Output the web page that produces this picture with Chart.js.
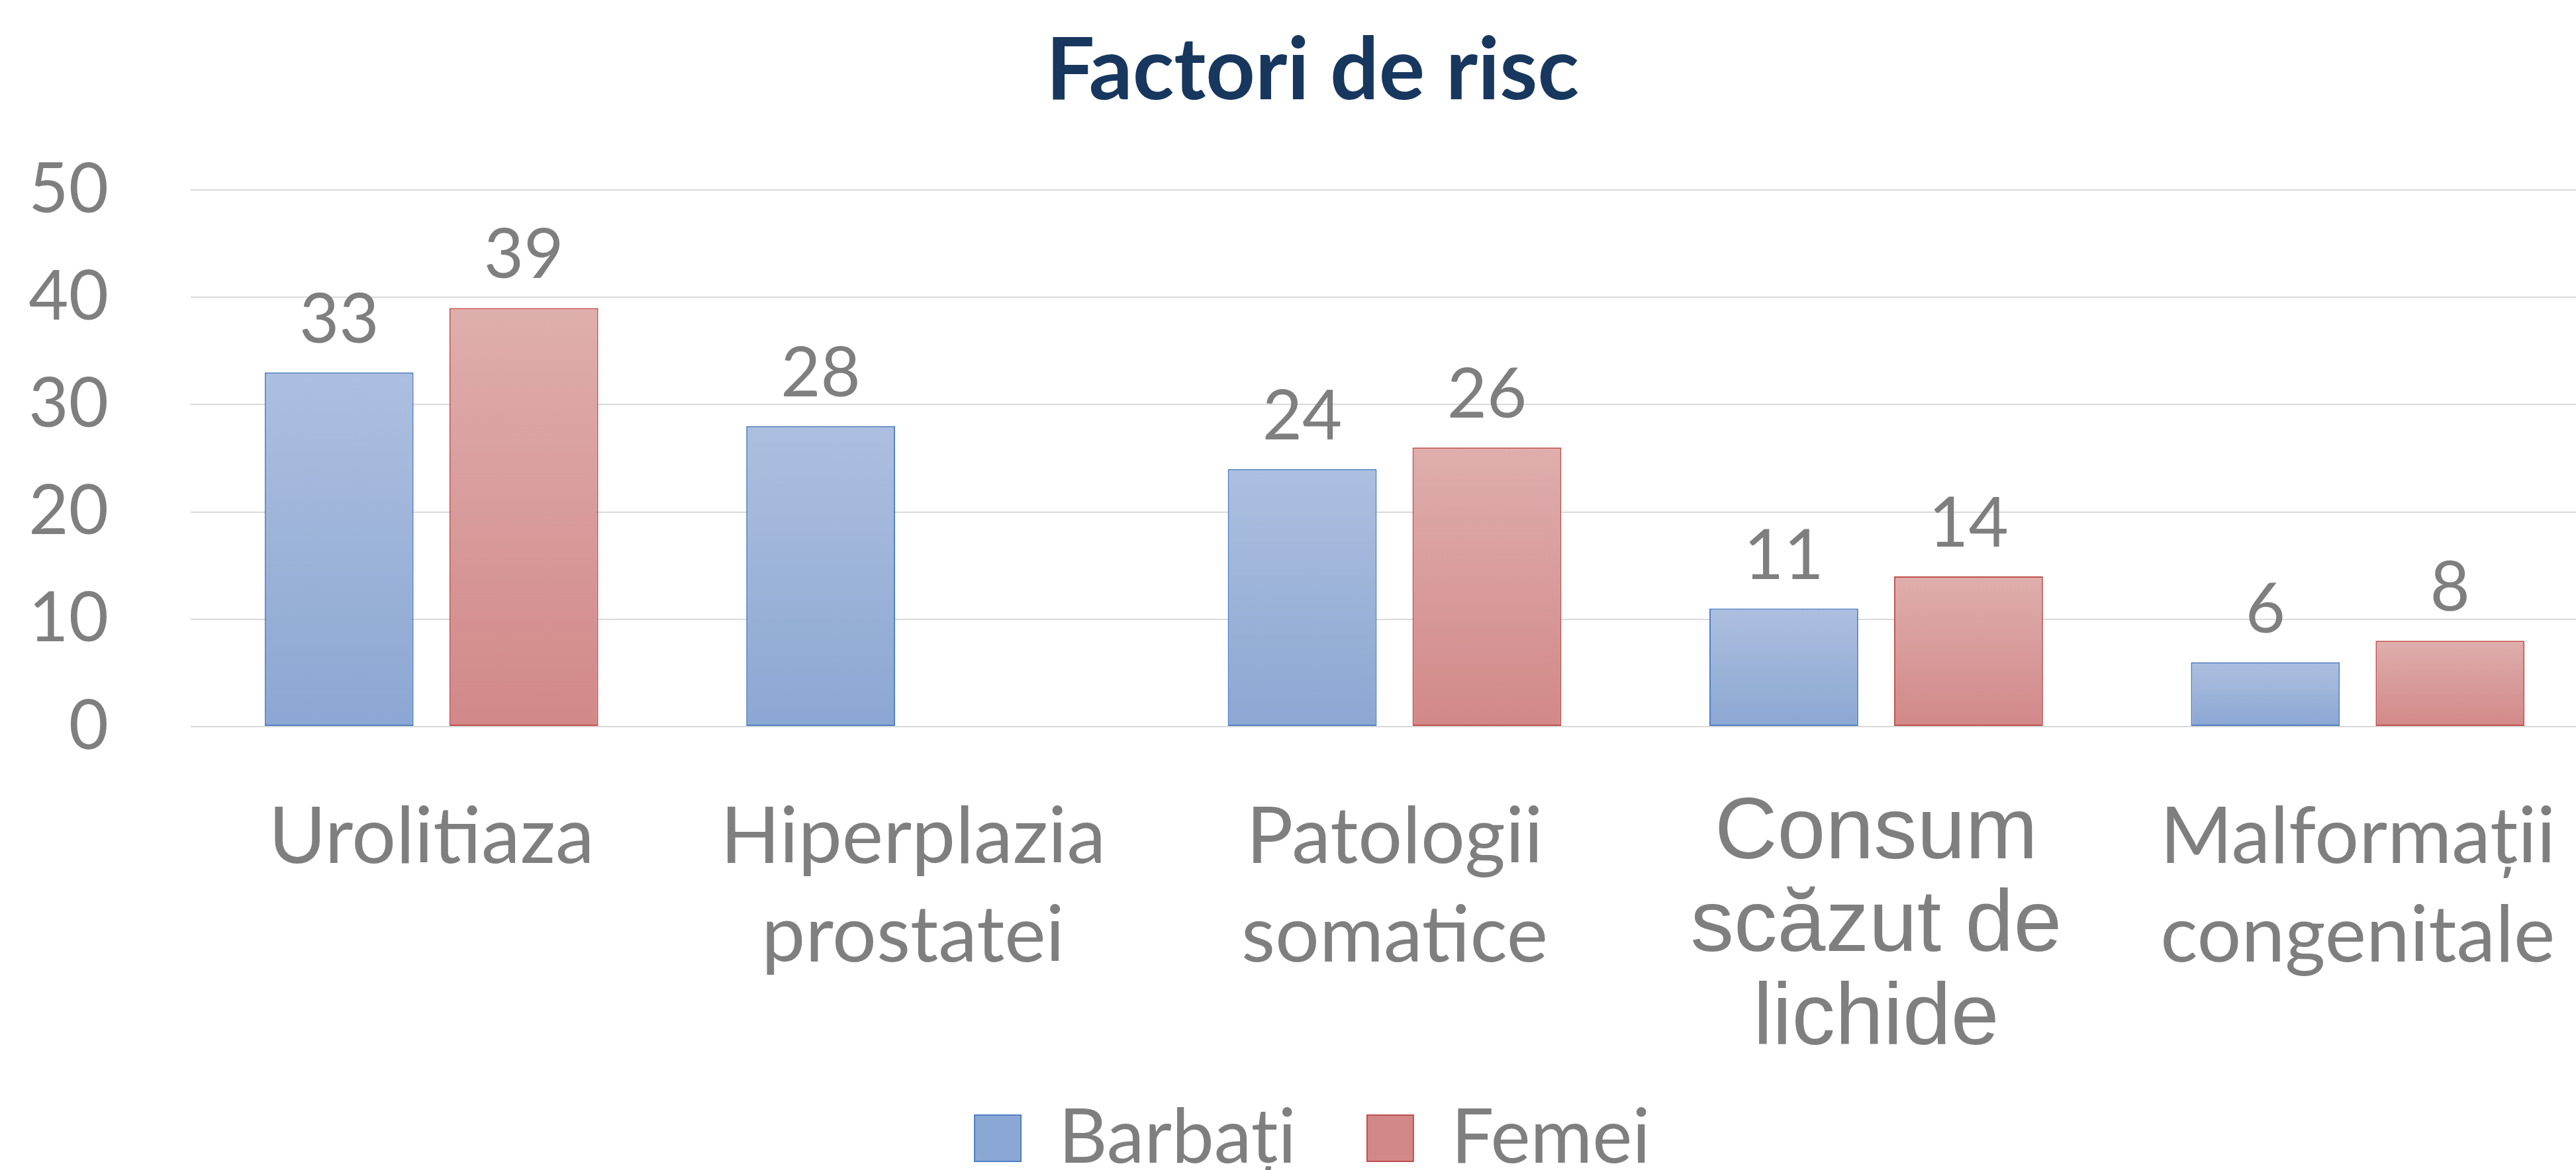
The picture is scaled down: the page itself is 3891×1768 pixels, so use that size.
<!DOCTYPE html>
<html>
<head>
<meta charset="utf-8">
<script src="https://cdn.jsdelivr.net/npm/chart.js@4.4.1/dist/chart.umd.min.js"></script>
<style>
  html, body { margin: 0; padding: 0; background: #ffffff; overflow: hidden; width: 3891px; height: 1768px; }
  #wrap { position: absolute; left: 0; top: 0; }
  canvas { display: block; }
</style>
</head>
<body>
<div id="wrap"><canvas id="c" width="3980" height="1800"></canvas></div>
<script>
// ---- data ----
const titleText = "Factori de risc";
const categories = [
  ["Urolitiaza"],
  ["Hiperplazia", "prostatei"],
  ["Patologii", "somatice"],
  ["Consum", "scăzut de", "lichide"],
  ["Malformații", "congenitale"]
];
const seriesNames = ["Barbați", "Femei"];
const barbatiValues = [33, 28, 24, 11, 6];
const femeiValues = [39, null, 26, 14, 8];
const yTicks = [0, 10, 20, 30, 40, 50];

// ---- styles ----
const GREY = "#7f7f7f";
const blueTop = "#adbfdf", blueBottom = "#8ba7d3", blueMid = "#9cb3d9", blueBorder = "#4f7fc4";
const redTop = "#deaead", redBottom = "#d28888", redMid = "#d89c9c", redBorder = "#c0504d";

function gradientFill(top, bottom, mid) {
  return function (ctx) {
    const chart = ctx.chart;
    if (ctx.type !== "data" || !chart.chartArea) return mid;
    const v = ctx.raw;
    if (v == null) return mid;
    const ys = chart.scales.y;
    const y0 = ys.getPixelForValue(v), y1 = ys.getPixelForValue(0);
    if (!isFinite(y0) || !isFinite(y1) || y0 === y1) return mid;
    const g = chart.ctx.createLinearGradient(0, y0, 0, y1);
    g.addColorStop(0, top);
    g.addColorStop(1, bottom);
    return g;
  };
}

const valueLabels = {
  id: "valueLabels",
  afterDatasetsDraw(chart) {
    const ctx = chart.ctx;
    ctx.save();
    ctx.font = "104px Lato";
    ctx.fillStyle = GREY;
    ctx.textAlign = "center";
    ctx.textBaseline = "alphabetic";
    chart.data.datasets.forEach((ds, i) => {
      const meta = chart.getDatasetMeta(i);
      meta.data.forEach((el, j) => {
        const v = ds.data[j];
        if (v == null) return;
        ctx.fillText(String(v), el.x, el.y - 45);
      });
    });
    ctx.restore();
  }
};

new Chart(document.getElementById("c"), {
  type: "bar",
  data: {
    labels: categories,
    datasets: [
      {
        label: seriesNames[0],
        data: barbatiValues,
        backgroundColor: gradientFill(blueTop, blueBottom, blueMid),
        borderColor: blueBorder,
        borderWidth: 2,
        borderSkipped: false,
        categoryPercentage: 0.767,
        barPercentage: 0.806
      },
      {
        label: seriesNames[1],
        data: femeiValues,
        backgroundColor: gradientFill(redTop, redBottom, redMid),
        borderColor: redBorder,
        borderWidth: 2,
        borderSkipped: false,
        categoryPercentage: 0.767,
        barPercentage: 0.806
      }
    ]
  },
  options: {
    responsive: false,
    animation: false,
    devicePixelRatio: 1,
    layout: { padding: { top: 0, left: 40, right: 55, bottom: 13 } },
    plugins: {
      title: {
        display: true,
        text: titleText,
        color: "#17375e",
        font: { family: "Lato", size: 130, weight: "bold", lineHeight: 1.2 },
        padding: { top: 30, bottom: 101 }
      },
      legend: {
        display: true,
        position: "bottom",
        labels: {
          color: GREY,
          font: { family: "Lato", size: 114 },
          boxWidth: 70,
          boxHeight: 70,
          padding: 50,
          generateLabels: (chart) => {
            const items = Chart.defaults.plugins.legend.labels.generateLabels(chart);
            items.forEach((it, i) => { if (i < items.length - 1) it.text = it.text + "\u2002"; });
            return items;
          }
        }
      },
      tooltip: { enabled: false }
    },
    scales: {
      x: {
        grid: { display: false },
        border: { display: false },
        ticks: {
          color: GREY,
          autoSkip: false,
          maxRotation: 0,
          minRotation: 0,
          padding: 85,
          font: (ctx) => ctx.index === 3
            ? { family: "Liberation Sans", size: 131, lineHeight: 1.07 }
            : { family: "Lato", size: 118, lineHeight: 1.263 }
        },
        afterFit: (scale) => { scale.height = 515; }
      },
      y: {
        min: yTicks[0],
        max: yTicks[yTicks.length - 1],
        afterBuildTicks: (scale) => { scale.ticks = yTicks.map(v => ({ value: v })); },
        afterFit: (scale) => { scale.width = 248; },
        grid: { color: "#d9d9d9", lineWidth: 2, drawTicks: false },
        border: { display: false },
        ticks: {
          color: GREY,
          padding: 124,
          font: { family: "Lato", size: 104 }
        }
      }
    }
  },
  plugins: [valueLabels]
});
</script>
</body>
</html>
